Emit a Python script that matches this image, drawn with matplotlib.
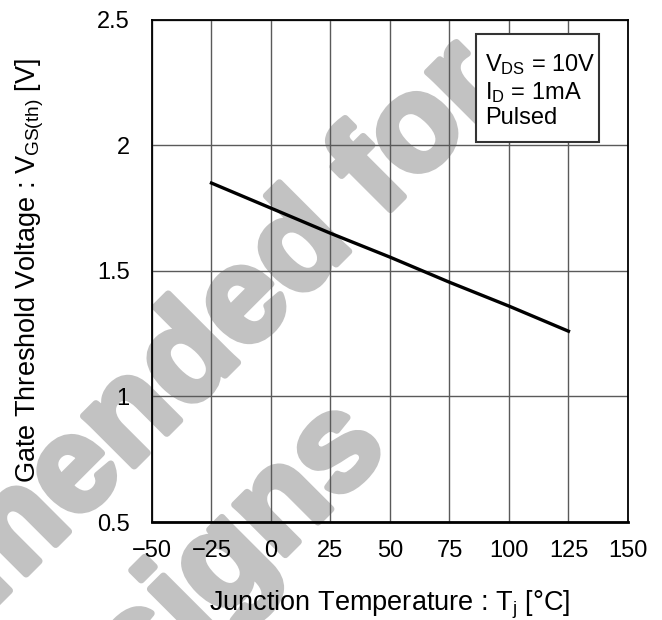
import matplotlib
matplotlib.use("Agg")
import matplotlib.pyplot as plt
import matplotlib.patheffects as pe
from matplotlib.patches import Rectangle

plt.rcParams['font.family'] = ['Liberation Sans', 'DejaVu Sans']

# junction temperature [degC] and gate threshold voltage [V]
tj = [-25, 0, 25, 50, 75, 100, 125]
vgs_th = [1.85, 1.75, 1.65, 1.555, 1.455, 1.36, 1.26]

x_ticks = [-50, -25, 0, 25, 50, 75, 100, 125, 150]
x_labels = ['\u221250', '\u221225', '0', '25', '50', '75', '100', '125', '150']
y_ticks = [0.5, 1.0, 1.5, 2.0, 2.5]
y_labels = ['0.5', '1', '1.5', '2', '2.5']

conditions = '$\\mathregular{V_{DS}}$ = 10V\n$\\mathregular{I_{D}}$ = 1mA\nPulsed'
watermark_1 = 'Not Recommended for'
watermark_2 = 'New Designs'

fig = plt.figure(figsize=(6.62, 6.2), dpi=100)
ax = fig.add_axes([0.2296, 0.158, 0.719, 0.81])
ax.patch.set_visible(False)

# watermark, drawn under everything else
wm = dict(fontsize=97, fontweight='bold', color='#c2c2c2', rotation=45,
          rotation_mode='anchor', ha='right', va='baseline', zorder=-5,
          path_effects=[pe.withStroke(linewidth=5, foreground='#c2c2c2')])
fig.text(0.768, 0.852, watermark_1, **wm)
fig.text(0.589, 0.274, watermark_2, **wm)

ax.plot(tj, vgs_th, color='black', lw=2.4, zorder=3)

ax.set_xlim(-50, 150)
ax.set_ylim(0.5, 2.5)
ax.set_xticks(x_ticks)
ax.set_xticklabels(x_labels)
ax.set_yticks(y_ticks)
ax.set_yticklabels(y_labels)
ax.tick_params(length=0, labelsize=17, pad=13)
ax.tick_params(axis='y', pad=16)
ax.grid(True, color='#5a5a5a', lw=1.0)
for s in ax.spines.values():
    s.set_linewidth(1.3)
ax.spines['bottom'].set_linewidth(2.0)

ax.set_xlabel('Junction Temperature : $\\mathregular{T_j}$ [\u00b0C]', fontsize=19.5, labelpad=19)
ax.set_ylabel('Gate Threshold Voltage : $\\mathregular{V_{GS(th)}}$ [V]', fontsize=19.5, labelpad=37)

# measurement conditions box
ax.add_patch(Rectangle((0.681, 0.757), 0.258, 0.215, transform=ax.transAxes,
                       fc='white', ec='#333333', lw=1.5, zorder=4))
ax.text(0.700, 0.935, conditions, transform=ax.transAxes, fontsize=17, va='top', ha='left',
        linespacing=1.12, zorder=5)

fig.savefig('out.png', dpi=100)
